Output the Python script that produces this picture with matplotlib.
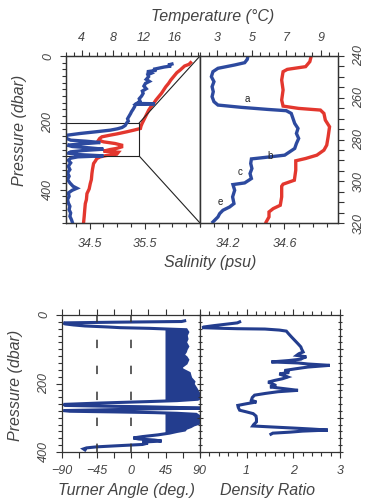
import numpy as np
import matplotlib
matplotlib.use('Agg')
import matplotlib.pyplot as plt
from matplotlib.ticker import MultipleLocator, FixedLocator, NullFormatter

plt.rcParams['font.family'] = ['Liberation Sans', 'DejaVu Sans']
plt.rcParams['font.style'] = 'italic'

BLUE = '#2d4a9f'
NAVY = '#233d8e'
RED = '#e3372e'
GREY = '#444444'

# ---- top left: full profile (pressure, temperature, salinity)
p_temp = [24, 27, 30, 33, 36, 40, 43, 47, 52, 56, 62, 70, 76, 82, 90, 98, 105, 112, 120, 128,
          135, 142, 143, 145, 152, 160, 167, 172, 180, 188, 195, 200, 208, 214, 218, 222, 227,
          232, 237, 242, 247, 252, 255, 259, 263, 267, 271, 275, 279, 283, 287, 291, 295, 299,
          302, 306, 312, 320, 330, 340, 350, 360, 370, 380, 390, 396, 402, 410, 420, 430, 440,
          450, 460, 470, 480, 490, 497]
temp = [15.6, 15.1, 15.5, 14.6, 14.0, 13.2, 13.6, 12.4, 12.9, 12.5, 12.6, 12.3, 12.7, 12.2, 12.0,
        12.3, 11.8, 11.9, 11.7, 11.4, 11.5, 11.1, 13.4, 10.9, 10.8, 10.6, 10.4, 10.3, 10.1, 9.9,
        10.0, 9.8, 9.6, 9.2, 8.6, 7.7, 5.8, 3.8, 2.2, 1.9, 2.1, 2.6, 4.5, 6.4, 4.0, 2.2, 2.8, 5.0,
        6.8, 4.2, 2.6, 2.3, 3.5, 6.8, 3.5, 2.6, 2.3, 2.6, 2.3, 2.5, 2.2, 2.4, 2.2, 2.5, 2.9, 3.4,
        2.8, 2.3, 2.4, 2.2, 2.3, 2.5, 2.4, 2.6, 2.5, 2.7, 2.8]

p_sal = [20, 25, 30, 36, 42, 50, 62, 72, 82, 92, 102, 112, 122, 132, 142, 152, 162, 172, 182, 192,
         202, 210, 217, 222, 227, 233, 237, 242, 247, 252, 257, 262, 267, 272, 277, 280, 285, 288,
         294, 298, 302, 307, 315, 322, 340, 352, 370, 382, 398, 412, 430, 442, 460, 480, 497]
sal = [36.33, 36.30, 36.22, 36.18, 36.14, 36.08, 36.02, 35.97, 35.93, 35.88, 35.84, 35.80, 35.75,
       35.70, 35.66, 35.61, 35.57, 35.54, 35.51, 35.48, 35.45, 35.43, 35.42, 35.30, 35.17, 35.00,
       34.87, 34.72, 34.68, 34.66, 34.75, 34.96, 35.08, 35.08, 34.98, 34.87, 34.75, 35.02, 34.99,
       34.80, 34.69, 34.63, 34.60, 34.57, 34.55, 34.54, 34.53, 34.51, 34.49, 34.45, 34.44, 34.42,
       34.41, 34.40, 34.39]

# ---- top right: zoom 240-320 dbar
pz_temp = [240, 241.6, 243.2, 244.3, 245.9, 247.5, 249.9, 252.3, 254.7, 257.1, 259.5, 261.9, 263.5,
           264.6, 265.6, 266.2, 267.5, 269.9, 272.3, 274.7, 277.1, 279.5, 281.9, 284.3, 285.9,
           287.5, 288.6, 289.3, 291.5, 293.9, 296.3, 298.7, 300.8, 301.6, 304.3, 307.5, 310.7,
           312.3, 313.9, 315.5, 317.1, 319.5]
ztemp = [4.78, 4.74, 4.59, 4.01, 3.04, 2.75, 2.66, 2.81, 2.70, 2.77, 2.70, 2.81, 3.04, 4.40, 5.94,
         7.00, 7.29, 7.39, 7.49, 7.68, 7.59, 7.72, 7.59, 7.49, 7.20, 6.91, 5.75, 4.98, 4.94, 5.01,
         4.90, 4.98, 4.59, 3.91, 4.01, 3.89, 3.97, 3.72, 3.33, 3.14, 3.04, 2.75]

pz_sal = [240, 242.7, 245.1, 246.4, 247.5, 251.5, 256.3, 261.1, 264.0, 265.1, 265.9, 267.5, 270.7,
          273.9, 278.7, 282.7, 285.1, 287.5, 289.1, 290.2, 294.7, 299.5, 301.4, 302.4, 307.5,
          311.5, 313.1, 314.7, 317.1, 319.5]
zsal = [34.79, 34.78, 34.75, 34.62, 34.59, 34.58, 34.59, 34.58, 34.59, 34.70, 34.855, 34.88, 34.89,
        34.92, 34.91, 34.90, 34.88, 34.83, 34.75, 34.68, 34.68, 34.67, 34.59, 34.58, 34.58, 34.57,
        34.52, 34.49, 34.49, 34.47]

step_labels = ['a', 'b', 'c', 'e']
step_t = [4.72, 6.06, 4.32, 3.16]
step_p = [260.6, 288.0, 295.7, 310.0]

# ---- bottom left: Turner angle
p_tu = [17, 19, 21, 23, 26, 29, 32, 35, 37, 39, 41, 43, 50, 60, 70, 80, 92, 100, 107, 117, 124,
        131, 141, 151, 156, 161, 170, 178, 185, 195, 202, 209, 216, 224, 231, 237, 242, 246, 250,
        253, 257, 261, 264, 266, 268, 270, 272, 274, 277, 279, 281, 283, 285, 287, 290, 296, 303,
        310, 316, 321, 326, 331, 336, 340, 345, 350, 355, 359, 362, 365, 368, 371, 374, 378, 382,
        385, 388, 391, 394]
tu = [70, 66, -20, -88, -86, -75, -60, -30, -14, 25, 48, 72, 74, 72, 73, 71, 74, 72, 71, 68, 72,
      74, 72, 66, 65, 68, 76, 77, 78, 82, 81, 83, 85, 87, 89, 92, 90, 87, 60, 20, -40, -88, -86,
      -40, 20, 60, 90, 30, -40, -88, -80, -20, 30, 60, 85, 89, 90, 91, 89, 82, 78, 72, 70, 60, 50,
      35, 15, 3, 10, 30, 40, 15, 22, 15, -20, -45, -58, -62, -60]

# ---- bottom right: density ratio
p_dr = [20, 23, 27, 31, 35, 37, 39, 40, 41, 44, 47, 55, 64, 74, 84, 93, 100, 108, 113, 118, 122,
        126, 129, 133, 137, 140, 143, 147, 150, 152, 157, 162, 168, 172, 177, 181, 186, 191, 196,
        201, 206, 210, 215, 220, 224, 229, 234, 241, 249, 254, 259, 264, 270, 278, 283, 288, 295,
        303, 312, 320, 324, 327, 330, 333, 336, 339, 342, 345, 348]
dr = [0.85, 0.80, 0.55, 0.30, 0.08, 0.05, 0.50, 0.80, 1.39, 1.70, 1.85, 1.90, 1.96, 2.03, 2.10,
      2.16, 2.18, 2.21, 2.12, 2.07, 2.28, 2.20, 2.16, 1.90, 1.53, 2.10, 2.31, 2.78, 2.50, 2.31,
      2.05, 1.81, 1.91, 1.70, 1.80, 1.88, 1.77, 1.60, 1.46, 1.55, 1.63, 1.50, 1.80, 2.10, 1.67,
      1.40, 1.17, 1.12, 1.10, 1.21, 1.00, 0.81, 0.82, 0.85, 1.00, 1.14, 1.20, 1.21, 1.21, 1.15,
      1.13, 1.55, 1.99, 2.40, 2.74, 2.20, 1.93, 1.56, 1.52]

fig = plt.figure(figsize=(3.68, 5.04), dpi=100)
W, H = 368.0, 504.0


def box(l, t, r, b):
    return [l / W, 1 - b / H, (r - l) / W, (b - t) / H]


def style(ax):
    for s in ax.spines.values():
        s.set_color('#333333')
        s.set_linewidth(0.9)
    ax.tick_params(which='both', direction='out', colors='#333333', labelcolor=GREY,
                   labelsize=9, width=0.8)
    ax.tick_params(which='major', length=4.5)
    ax.tick_params(which='minor', length=2.8)


# top left
ax1 = fig.add_axes(box(66, 56, 200, 223))
ax1t = ax1.twiny()
ax1.plot(sal, p_sal, color=RED, lw=2.4, solid_joinstyle='miter')
ax1t.plot(temp, p_temp, color=BLUE, lw=2.4, solid_joinstyle='miter')
ax1.set_xlim(34.07, 36.5)
ax1t.set_xlim(2, 19.2)
ax1.set_ylim(500, 0)
for a in (ax1, ax1t):
    style(a)
ax1.xaxis.set_major_locator(FixedLocator([34.5, 35.5]))
ax1.xaxis.set_minor_locator(MultipleLocator(0.25))
ax1t.xaxis.set_major_locator(FixedLocator([4, 8, 12, 16]))
ax1t.xaxis.set_minor_locator(MultipleLocator(1))
ax1.yaxis.set_major_locator(FixedLocator([0, 200, 400]))
ax1.yaxis.set_minor_locator(MultipleLocator(20))
ax1.tick_params(axis='x', pad=6)
ax1t.tick_params(axis='x', pad=4)
ax1.tick_params(axis='y', pad=4)
for t in ax1.get_yticklabels():
    t.set_rotation(90)
    t.set_va('center')

# zoom box and connectors
zoom_top, zoom_bot, zoom_right = 200, 300, 35.40
s0, s1 = ax1.get_xlim()
ax1.plot([s0, zoom_right, zoom_right, s0], [zoom_top, zoom_top, zoom_bot, zoom_bot],
         color='#222222', lw=0.8)
ax1.plot([zoom_right, s1], [zoom_top, 0], color='#222222', lw=0.8, clip_on=False)
ax1.plot([zoom_right, s1], [zoom_bot, 500], color='#222222', lw=0.8, clip_on=False)

# top right
ax2 = fig.add_axes(box(200, 56, 338, 223))
ax2t = ax2.twiny()
ax2.plot(zsal, pz_sal, color=RED, lw=2.4, solid_joinstyle='miter')
ax2t.plot(ztemp, pz_temp, color=BLUE, lw=2.4, solid_joinstyle='miter')
for lab, t, p in zip(step_labels, step_t, step_p):
    ax2t.text(t, p, lab, fontsize=7, fontstyle='normal', color='#222222', ha='center', va='center')
ax2.set_xlim(34.0, 34.98)
ax2t.set_xlim(2, 10)
ax2.set_ylim(320, 240)
for a in (ax2, ax2t):
    style(a)
ax2.xaxis.set_major_locator(FixedLocator([34.2, 34.6]))
ax2.xaxis.set_minor_locator(MultipleLocator(0.1))
ax2t.xaxis.set_major_locator(FixedLocator([3, 5, 7, 9]))
ax2t.xaxis.set_minor_locator(MultipleLocator(0.5))
ax2.yaxis.tick_right()
ax2.yaxis.set_major_locator(MultipleLocator(20))
ax2.yaxis.set_minor_locator(MultipleLocator(5))
ax2.tick_params(axis='y', which='both', length=4.5, pad=6)
ax2.tick_params(axis='x', pad=6)
ax2t.tick_params(axis='x', pad=4)
for t in ax2.get_yticklabels():
    t.set_rotation(90)
    t.set_va('center')

# bottom left: Turner angle
ax3 = fig.add_axes(box(62, 315, 200, 452))
tu_a = np.array(tu, dtype=float)
p_tu_a = np.array(p_tu, dtype=float)
ax3.fill_betweenx(p_tu_a, 45, tu_a, where=tu_a > 45, color=NAVY, lw=0, interpolate=True)
ax3.plot(tu, p_tu, color=NAVY, lw=2.2, solid_joinstyle='miter')
for xv in (-45, 0):
    ax3.plot([xv, xv], [400, 0], color='#333333', lw=1.1, dashes=(5.5, 11.5))
ax3.set_xlim(-90, 90)
ax3.set_ylim(400, 0)
style(ax3)
ax3.xaxis.set_major_locator(FixedLocator([-90, -45, 0, 45, 90]))
ax3.xaxis.set_minor_locator(MultipleLocator(22.5))
ax3.yaxis.set_major_locator(FixedLocator([0, 200, 400]))
ax3.yaxis.set_minor_locator(MultipleLocator(20))
ax3.tick_params(top=True, which='both')
ax3.tick_params(axis='x', which='both', length=4.5, pad=5)
ax3.tick_params(axis='y', pad=4)
for t in ax3.get_yticklabels():
    t.set_rotation(90)
    t.set_va('center')

# bottom right: density ratio
ax4 = fig.add_axes(box(200, 315, 340, 452))
ax4.plot(dr, p_dr, color=NAVY, lw=2.2, solid_joinstyle='miter')
ax4.set_xlim(0, 3)
ax4.set_ylim(400, 0)
style(ax4)
ax4.xaxis.set_major_locator(FixedLocator([1, 2, 3]))
ax4.xaxis.set_minor_locator(MultipleLocator(0.2))
ax4.yaxis.set_major_locator(MultipleLocator(100))
ax4.yaxis.set_minor_locator(MultipleLocator(20))
ax4.yaxis.set_major_formatter(NullFormatter())
ax4.tick_params(top=True, right=True, which='both')
ax4.tick_params(axis='y', which='both', direction='inout')
ax4.tick_params(axis='x', pad=5)

# axis titles
fig.text(213 / W, 1 - 17 / H, 'Temperature (°C)', ha='center', va='center', fontsize=11.5, color=GREY)
fig.text(210 / W, 1 - 262 / H, 'Salinity (psu)', ha='center', va='center', fontsize=11.5, color=GREY)
fig.text(20 / W, 1 - 130 / H, 'Pressure (dbar)', ha='center', va='center', rotation=90,
         fontsize=11.5, color=GREY)
fig.text(16 / W, 1 - 385 / H, 'Pressure (dbar)', ha='center', va='center', rotation=90,
         fontsize=11.5, color=GREY)
fig.text(127 / W, 1 - 490 / H, 'Turner Angle (deg.)', ha='center', va='center', fontsize=11.5,
         color=GREY)
fig.text(267 / W, 1 - 490 / H, 'Density Ratio', ha='center', va='center', fontsize=11.5, color=GREY)

fig.savefig('out.png', dpi=100)
